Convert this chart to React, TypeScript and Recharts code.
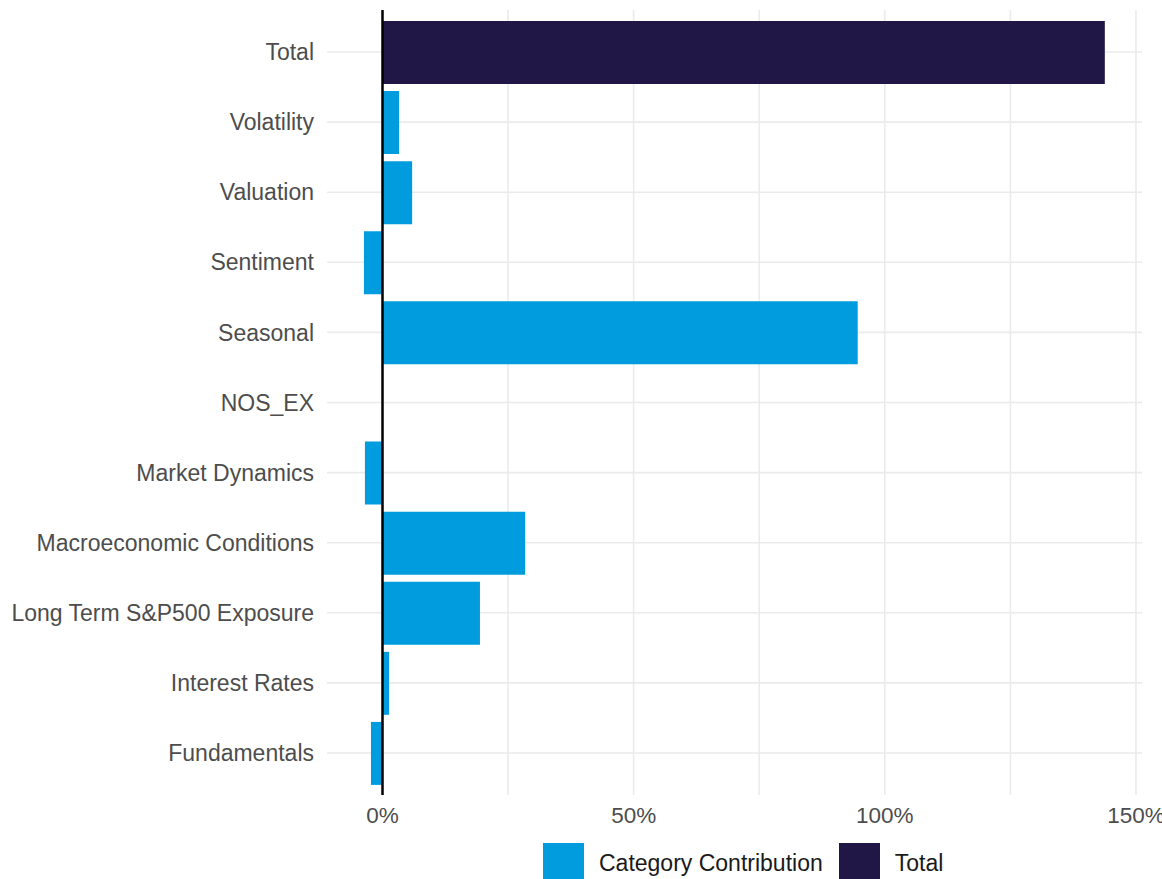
import { BarChart, Bar, XAxis, YAxis, CartesianGrid, ReferenceLine, Legend } from 'recharts';

// Categories listed top to bottom, as drawn
const categories = [
  'Total',
  'Volatility',
  'Valuation',
  'Sentiment',
  'Seasonal',
  'NOS_EX',
  'Market Dynamics',
  'Macroeconomic Conditions',
  'Long Term S&P500 Exposure',
  'Interest Rates',
  'Fundamentals',
];

// Contribution in percent (Total row holds the sum instead)
const contributions = [null, 3.3, 5.9, -3.7, 94.6, 0, -3.5, 28.4, 19.4, 1.3, -2.3];
const totals = [143.8, null, null, null, null, null, null, null, null, null, null];

const xTicks = [0, 25, 50, 75, 100, 125, 150];
const labeledTicks = [0, 50, 100, 150];

const BLUE = '#009CDE';
const NAVY = '#201747';
const FONT = '"Liberation Sans", Arial, Helvetica, sans-serif';

const data = categories.map((name, i) => ({
  name,
  contribution: contributions[i],
  total: totals[i],
}));

function LegendBox({ payload }: any) {
  return (
    <div style={{ display: 'flex', alignItems: 'center', height: 44, paddingTop: 6, fontFamily: FONT }}>
      {(payload || []).map((item: any) => (
        <div key={item.value} style={{ display: 'flex', alignItems: 'center', marginRight: 16 }}>
          <div style={{ width: 41, height: 40, background: item.color }} />
          <span style={{ marginLeft: 15, fontSize: 23, color: '#1a1a1a' }}>{item.value}</span>
        </div>
      ))}
    </div>
  );
}

export default function App() {
  return (
    <div style={{ position: 'absolute', left: 0, top: 0, fontFamily: FONT }}>
      <BarChart
        width={1162}
        height={879}
        data={data}
        layout="vertical"
        margin={{ top: 10, right: 20, left: 0, bottom: 0 }}
      >
        {/* syncWithTicks keeps the grid off the panel edges */}
        <CartesianGrid stroke="#EBEBEB" strokeWidth={1.6} syncWithTicks />
        <XAxis
          type="number"
          domain={[-11.05, 151.2]}
          ticks={xTicks}
          tickFormatter={(v) => (labeledTicks.includes(v) ? `${v}%` : '')}
          axisLine={false}
          tickLine={false}
          tickSize={0}
          tickMargin={12}
          height={40}
          tick={{ fontSize: 22.5, fill: '#4D4D4D', fontFamily: FONT }}
          interval={0}
        />
        <YAxis
          type="category"
          dataKey="name"
          width={327}
          axisLine={false}
          tickLine={false}
          tickSize={0}
          tickMargin={13}
          padding={{ top: 7, bottom: 7 }}
          interval={0}
          tick={{ fontSize: 23, fill: '#4D4D4D', fontFamily: FONT }}
        />
        <Legend
          verticalAlign="bottom"
          align="left"
          height={44}
          wrapperStyle={{ left: 543, width: 'auto' }}
          content={<LegendBox />}
        />
        <Bar
          dataKey="contribution"
          name="Category Contribution"
          stackId="a"
          fill={BLUE}
          barSize={63}
          isAnimationActive={false}
        />
        <Bar
          dataKey="total"
          name="Total"
          stackId="a"
          fill={NAVY}
          barSize={63}
          isAnimationActive={false}
        />
        <ReferenceLine x={0} stroke="#000000" strokeWidth={2.5} />
      </BarChart>
    </div>
  );
}
